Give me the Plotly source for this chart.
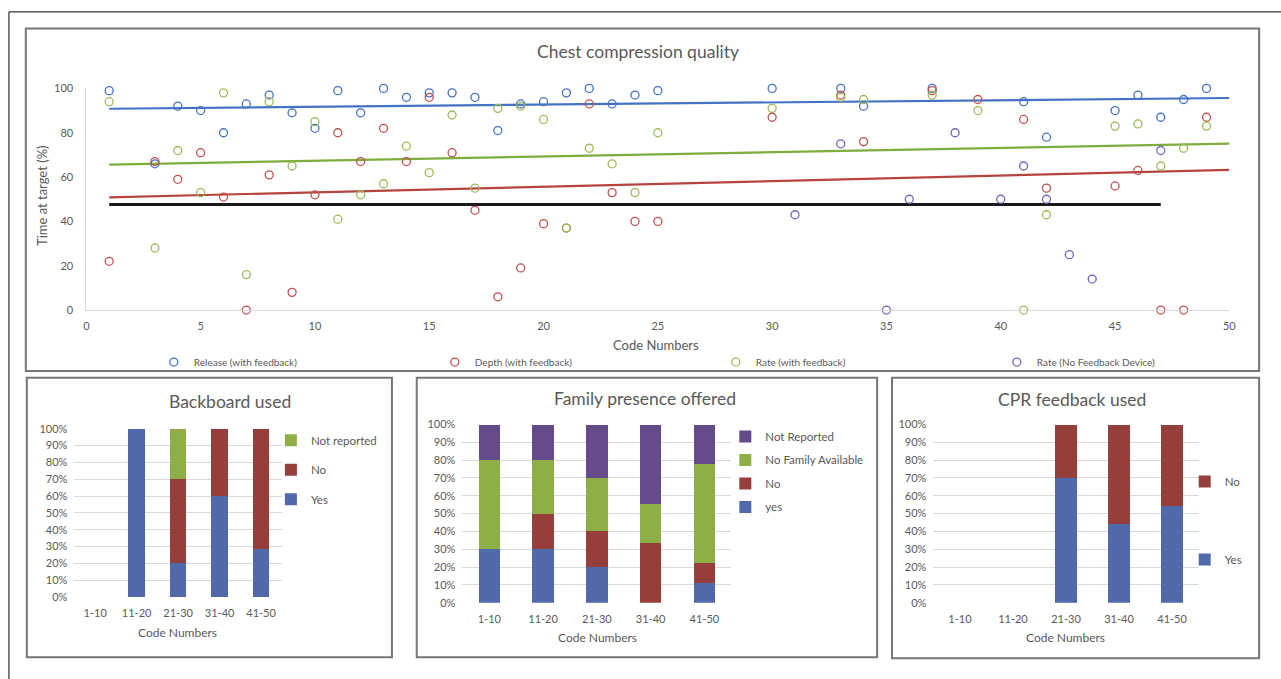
import numpy as np
import plotly.graph_objects as go

W, H = 1281, 679
FONT = "Lato"
TXT = "#595959"

# ---------------- Chest compression quality (scatter) ----------------
release_codes = [1, 3, 4, 5, 6, 7, 8, 9, 10, 11, 12, 13, 14, 15, 16, 17, 18, 19, 20, 21, 22, 23, 24, 25,
                 30, 33, 34, 37, 41, 42, 45, 46, 47, 48, 49]
release_vals = [99, 66, 92, 90, 80, 93, 97, 89, 82, 99, 89, 100, 96, 98, 98, 96, 81, 93, 94, 98, 100, 93, 97, 99,
                100, 100, 92, 100, 94, 78, 90, 97, 87, 95, 100]

depth_codes = [1, 3, 4, 5, 6, 7, 8, 9, 10, 11, 12, 13, 14, 15, 16, 17, 18, 19, 20, 21, 22, 23, 24, 25,
               30, 33, 34, 37, 39, 41, 42, 45, 46, 47, 48, 49]
depth_vals = [22, 67, 59, 71, 51, 0, 61, 8, 52, 80, 67, 82, 67, 96, 71, 45, 6, 19, 39, 37, 93, 53, 40, 40,
              87, 97, 76, 99, 95, 86, 55, 56, 63, 0, 0, 87]

rate_codes = [1, 3, 4, 5, 6, 7, 8, 9, 10, 11, 12, 13, 14, 15, 16, 17, 18, 19, 20, 21, 22, 23, 24, 25,
              30, 33, 34, 37, 39, 41, 42, 45, 46, 47, 48, 49]
rate_vals = [94, 28, 72, 53, 98, 16, 94, 65, 85, 41, 52, 57, 74, 62, 88, 55, 91, 92, 86, 37, 73, 66, 53, 80,
             91, 96, 95, 97, 90, 0, 43, 83, 84, 65, 73, 83]

nofb_codes = [31, 33, 35, 36, 38, 40, 41, 42, 43, 44, 47]
nofb_vals = [43, 75, 0, 50, 80, 50, 65, 50, 25, 14, 72]

# ---------------- Stacked percentage bars ----------------
groups = ["1-10", "11-20", "21-30", "31-40", "41-50"]

backboard_yes = [0, 1.0, 0.20, 0.60, 2 / 7]
backboard_no = [0, 0, 0.50, 0.40, 5 / 7]
backboard_nr = [0, 0, 0.30, 0, 0]

family_yes = [0.30, 0.30, 0.20, 0, 1 / 9]
family_no = [0, 0.20, 0.20, 3 / 9, 1 / 9]
family_nofam = [0.50, 0.30, 0.30, 2 / 9, 5 / 9]
family_nr = [0.20, 0.20, 0.30, 4 / 9, 2 / 9]

cpr_yes = [0, 0, 0.70, 4 / 9, 6 / 11]
cpr_no = [0, 0, 0.30, 5 / 9, 5 / 11]

BLUE_PT, RED_PT, GREEN_PT, PURPLE_PT = "#4472C4", "#C0504D", "#9BBB59", "#7563BE"
BAR_BLUE, BAR_RED, BAR_GREEN, BAR_PURPLE = "#4F69AB", "#953E3C", "#8EAF48", "#664B8B"


def fx(p):
    return p / W


def fy(p):
    return 1 - p / H


fig = go.Figure()

series = [
    ("Release (with feedback)", release_codes, release_vals, BLUE_PT, "#4472C4"),
    ("Depth (with feedback)", depth_codes, depth_vals, RED_PT, "#B5443F"),
    ("Rate (with feedback)", rate_codes, rate_vals, GREEN_PT, "#7DAE3C"),
    ("Rate (No Feedback Device)", nofb_codes, nofb_vals, PURPLE_PT, None),
]

X_MAX = 50
x_start = min(min(s[1]) for s in series)

# least-squares trend lines for the three feedback series
for name, codes, vals, mcol, lcol in series:
    if lcol is None:
        continue
    k, b = np.polyfit(codes, vals, 1)
    xs = np.array([x_start, X_MAX])
    fig.add_trace(go.Scatter(x=xs, y=k * xs + b, mode="lines", line=dict(color=lcol, width=2.2),
                             showlegend=False, hoverinfo="skip", xaxis="x", yaxis="y"))

# mean level of the no-feedback group
nofb_mean = float(np.mean(nofb_vals))
fig.add_trace(go.Scatter(x=[x_start, max(nofb_codes)], y=[nofb_mean, nofb_mean], mode="lines",
                         line=dict(color="#1a1a1a", width=3), showlegend=False, hoverinfo="skip",
                         xaxis="x", yaxis="y"))

for name, codes, vals, mcol, lcol in series:
    fig.add_trace(go.Scatter(x=codes, y=vals, mode="markers", name=name,
                             marker=dict(symbol="circle-open", size=8, color=mcol, line=dict(width=1.3)),
                             cliponaxis=False, xaxis="x", yaxis="y", legend="legend"))


def add_bars(values, name, color, xa, ya, leg, rank):
    fig.add_trace(go.Bar(x=groups, y=values, name=name, marker=dict(color=color, line=dict(width=0)),
                         xaxis=xa, yaxis=ya, legend=leg, legendgroup=f"{leg}-{rank}", legendrank=rank))


add_bars(backboard_yes, "Yes", BAR_BLUE, "x2", "y2", "legend2", 3)
add_bars(backboard_no, "No", BAR_RED, "x2", "y2", "legend2", 2)
add_bars(backboard_nr, "Not reported", BAR_GREEN, "x2", "y2", "legend2", 1)

add_bars(family_yes, "yes", BAR_BLUE, "x3", "y3", "legend3", 4)
add_bars(family_no, "No", BAR_RED, "x3", "y3", "legend3", 3)
add_bars(family_nofam, "No Family Available", BAR_GREEN, "x3", "y3", "legend3", 2)
add_bars(family_nr, "Not Reported", BAR_PURPLE, "x3", "y3", "legend3", 1)

add_bars(cpr_yes, "Yes", BAR_BLUE, "x4", "y4", "legend4", 2)
add_bars(cpr_no, "No", BAR_RED, "x4", "y4", "legend4", 1)

tickfont = dict(family=FONT, size=11, color=TXT)
barx = dict(type="category", categoryorder="array", categoryarray=groups, showgrid=False,
            zeroline=False, showline=False, ticks="", tickfont=tickfont, ticklabelstandoff=8,
            fixedrange=True)
bary = dict(range=[0, 1], dtick=0.1, tickformat=".0%", showgrid=True, gridcolor="#D9D9D9",
            gridwidth=1, zeroline=False, showline=False, ticks="", tickfont=tickfont,
            ticklabelstandoff=6, fixedrange=True)
legfont = dict(family=FONT, size=11.5, color=TXT)

fig.update_layout(
    width=W, height=H, margin=dict(l=0, r=0, t=0, b=0),
    paper_bgcolor="white", plot_bgcolor="white",
    font=dict(family=FONT, color=TXT),
    barmode="stack", bargap=0.6,
    xaxis=dict(domain=[fx(84), fx(1236)], range=[0, X_MAX], dtick=5, showgrid=False, zeroline=False,
               showline=True, linecolor="#D9D9D9", linewidth=1, ticks="", tickfont=tickfont,
               ticklabelstandoff=6, anchor="y"),
    yaxis=dict(domain=[fy(309), fy(83)], range=[0, 100], dtick=20, showgrid=False, zeroline=False,
               showline=True, linecolor="#D9D9D9", linewidth=1, ticks="", tickfont=tickfont,
               ticklabelstandoff=10, anchor="x"),
    xaxis2=dict(barx, domain=[fx(72), fx(281)], anchor="y2"),
    yaxis2=dict(bary, domain=[fy(601.5), fy(430)], anchor="x2"),
    xaxis3=dict(barx, domain=[fx(463), fx(734)], anchor="y3"),
    yaxis3=dict(bary, domain=[fy(607.3), fy(425.7)], anchor="x3"),
    xaxis4=dict(barx, domain=[fx(937.7), fx(1205)], anchor="y4"),
    yaxis4=dict(bary, domain=[fy(607.3), fy(425.7)], anchor="x4"),
    legend=dict(orientation="h", x=fx(152), y=fy(362), xanchor="left", yanchor="middle",
                entrywidth=236, entrywidthmode="pixels", font=dict(family=FONT, size=10, color=TXT),
                bgcolor="rgba(0,0,0,0)", itemclick=False, itemdoubleclick=False),
    legend2=dict(x=fx(270), y=fy(427), xanchor="left", yanchor="top", traceorder="grouped",
                 tracegroupgap=10.5, font=legfont, bgcolor="rgba(0,0,0,0)"),
    legend3=dict(x=fx(728), y=fy(423), xanchor="left", yanchor="top", traceorder="grouped",
                 tracegroupgap=4.5, font=legfont, bgcolor="rgba(0,0,0,0)"),
    legend4=dict(x=fx(1191), y=fy(469), xanchor="left", yanchor="top", traceorder="grouped",
                 tracegroupgap=59, font=legfont, bgcolor="rgba(0,0,0,0)"),
)

# panel frames and outer border
frames = [(23, 22, 1266, 371), (24, 378, 392, 663), (417, 378, 881, 663), (896, 378, 1266, 664)]
for x0, y0, x1, y1 in frames:
    fig.add_shape(type="rect", xref="paper", yref="paper", x0=fx(x0), y0=fy(y0), x1=fx(x1), y1=fy(y1),
                  line=dict(color="#767676", width=2), layer="below")
fig.add_shape(type="rect", xref="paper", yref="paper", x0=fx(6), y0=fy(5), x1=fx(1290), y1=fy(690),
              line=dict(color="black", width=1), layer="below")

# titles and axis labels
texts = [
    ("Chest compression quality", 640, 45, 17.5, 0),
    ("Code Numbers", 658, 345, 13, 0),
    ("Time at target (%)", 40, 192, 13, -90),
    ("Backboard used", 229, 402, 17.5, 0),
    ("Code Numbers", 176, 638, 12, 0),
    ("Family presence offered", 647, 399, 17.5, 0),
    ("Code Numbers", 599, 643, 12, 0),
    ("CPR feedback used", 1077, 400, 17.5, 0),
    ("Code Numbers", 1071, 643, 12, 0),
]
for t, x, y, s, ang in texts:
    fig.add_annotation(text=t, x=fx(x), y=fy(y), xref="paper", yref="paper", showarrow=False,
                       xanchor="center", yanchor="middle", textangle=ang,
                       font=dict(family=FONT, size=s, color=TXT))

fig.write_html("out.html")
